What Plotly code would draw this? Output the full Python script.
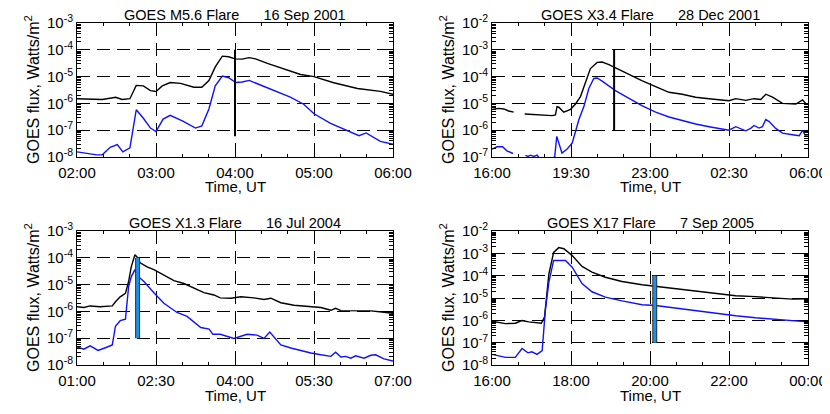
import plotly.graph_objects as go

# ---- 16 Sep 2001 (M5.6), time in hours UT
sep01_t = [2.00, 2.32, 2.49, 2.57, 2.67, 2.75, 2.84, 2.93, 3.00, 3.08, 3.18, 3.31, 3.48, 3.58, 3.67, 3.75,
           3.84, 3.92, 4.00, 4.09, 4.18, 4.26, 4.41, 4.62, 4.83, 5.00, 5.25, 5.55, 5.67, 5.84, 6.00]
sep01_long = [1.5e-6, 1.4e-6, 1.7e-6, 1.4e-6, 1.5e-6, 4.7e-6, 4.5e-6, 3.0e-6, 2.8e-6, 4.5e-6, 6.0e-6, 5.6e-6,
              4.0e-6, 4.0e-6, 7.1e-6, 2.3e-5, 5.8e-5, 5.5e-5, 4.6e-5, 4.5e-5, 5.1e-5, 4.6e-5, 3.1e-5, 1.9e-5,
              1.2e-5, 1.0e-5, 5.9e-6, 3.6e-6, 3.3e-6, 2.8e-6, 2.2e-6]
sep01_ts = [2.00, 2.25, 2.32, 2.42, 2.51, 2.58, 2.67, 2.75, 2.84, 2.93, 3.00, 3.09, 3.18, 3.34, 3.50, 3.58, 3.67,
            3.75, 3.84, 3.92, 4.01, 4.09, 4.18, 4.32, 4.53, 4.70, 4.87, 5.00, 5.21, 5.42, 5.57, 5.66, 5.84, 6.00]
sep01_short = [1.55e-8, 1.2e-8, 1.2e-8, 2.3e-8, 2.9e-8, 1.55e-8, 2.2e-8, 5.8e-7, 2.8e-7, 1.2e-7, 8.9e-8, 2.6e-7,
               3.6e-7, 2.2e-7, 1.2e-7, 1.45e-7, 6.2e-7, 4.5e-6, 1.05e-5, 9.1e-6, 6.0e-6, 6.3e-6, 7.2e-6, 4.9e-6,
               2.6e-6, 1.7e-6, 9.3e-7, 4.1e-7, 1.8e-7, 1.0e-7, 6.2e-8, 7.9e-8, 3.8e-8, 3.0e-8]
sep01_mark = [4.0, 1e-4, 6e-8]

# ---- 28 Dec 2001 (X3.4), hours from 16:00 on 28 Dec (24+ = next day)
dec01_t = [16.0, 16.3, 16.52, 16.74, 16.96, 17.2, 17.45, 17.92, 18.29, 18.66, 18.81, 18.88, 18.96, 19.18, 19.48,
           19.70, 19.92, 20.14, 20.36, 20.66, 20.88, 21.18, 21.47, 22.07, 22.66, 23.25, 23.84, 24.43, 25.02,
           25.62, 26.21, 26.50, 26.80, 27.24, 27.61, 27.91, 28.13, 28.43, 28.87, 29.46, 29.76, 29.90, 30.0]
dec01_long = [6.0e-6, 6.5e-6, 6.2e-6, 5.2e-6, 4.7e-6, None, 4.0e-6, 3.8e-6, 3.5e-6, 3.5e-6, 3.7e-6, 7.6e-6, 7.2e-6,
              4.7e-6, 6.0e-6, 9.5e-6, 1.8e-5, 6.5e-5, 2.0e-4, 3.4e-4, 3.5e-4, 2.8e-4, 2.1e-4, 1.2e-4, 6.9e-5,
              4.2e-5, 2.6e-5, 2.2e-5, 1.7e-5, 1.5e-5, 1.3e-5, 1.26e-5, 1.5e-5, 1.3e-5, 1.5e-5, 1.4e-5, 2.2e-5,
              1.7e-5, 1.0e-5, 9.5e-6, 1.35e-5, 1.0e-5, 9.5e-6]
dec01_ts = [16.0, 16.22, 16.47, 16.66, 16.93, 17.2, 17.48, 17.6, 17.7, 17.85, 18.0, 18.15, 18.66, 18.78, 18.87,
            19.1, 19.33, 19.55, 19.70, 19.85, 20.07, 20.29, 20.51, 20.66, 20.88, 21.18, 21.47, 22.07, 22.66,
            23.25, 23.84, 24.43, 25.02, 25.62, 26.21, 26.50, 26.80, 27.24, 27.46, 27.61, 27.83, 27.98, 28.13,
            28.28, 28.57, 28.87, 29.31, 29.61, 29.76, 29.88, 30.0]
dec01_short = [1.95e-7, 2.4e-7, 2.4e-7, 1.7e-7, 1.35e-7, None, 1.15e-7, 1.05e-7, 1.17e-7, 1.05e-7, 1.17e-7, 8e-8,
               8e-8, 1.05e-7, 5.9e-7, 1.4e-7, 2.0e-7, 3.3e-7, 8.9e-7, 2.5e-6, 7.6e-6, 3.6e-5, 8.5e-5, 8.9e-5,
               6.8e-5, 4.5e-5, 3.0e-5, 1.55e-5, 8.1e-6, 4.7e-6, 3.1e-6, 2.3e-6, 1.7e-6, 1.35e-6, 1.1e-6, 1.0e-6,
               1.35e-6, 9.5e-7, 1.17e-6, 1.5e-6, 1.2e-6, 1.35e-6, 2.5e-6, 2.1e-6, 1.17e-6, 7.8e-7, 6.8e-7,
               6.2e-7, 1.0e-6, 6.2e-7, 5.9e-7]
dec01_mark = [21.41, 1e-3, 1e-6]

# ---- 16 Jul 2004 (X1.3)
jul04_t = [1.0, 1.13, 1.25, 1.44, 1.67, 1.73, 1.82, 1.92, 1.98, 2.03, 2.10, 2.14, 2.20, 2.33, 2.46, 2.65, 2.84,
           3.03, 3.22, 3.41, 3.60, 3.72, 3.92, 4.11, 4.36, 4.55, 4.68, 4.87, 5.12, 5.37, 5.63, 5.82, 5.91, 6.01,
           6.20, 6.39, 6.58, 6.83, 7.0]
jul04_long = [1.5e-6, 1.4e-6, 1.6e-6, 1.5e-6, 1.6e-6, 2.3e-6, 3.5e-6, 4.7e-6, 1.3e-5, 4.6e-5, 1.3e-4, 1.07e-4,
              6.5e-5, 4.6e-5, 3.6e-5, 2.2e-5, 1.4e-5, 1.1e-5, 7.2e-6, 5.0e-6, 4.1e-6, 3.2e-6, 3.1e-6, 3.5e-6,
              3.2e-6, 2.8e-6, 3.1e-6, 2.1e-6, 1.7e-6, 1.55e-6, 1.4e-6, 1.1e-6, 1.3e-6, 1.07e-6, 1.05e-6, 1.05e-6,
              1.05e-6, 9.3e-7, 8.5e-7]
jul04_ts = [1.0, 1.13, 1.25, 1.40, 1.54, 1.67, 1.73, 1.82, 1.92, 1.98, 2.03, 2.10, 2.14, 2.27, 2.46, 2.65, 2.90,
            3.09, 3.35, 3.51, 3.58, 3.72, 3.98, 4.11, 4.23, 4.42, 4.55, 4.66, 4.77, 4.87, 5.06, 5.25, 5.44, 5.63,
            5.82, 5.91, 6.01, 6.10, 6.20, 6.29, 6.45, 6.58, 6.67, 6.83, 7.0]
jul04_short = [4.7e-8, 3.9e-8, 5.2e-8, 3.5e-8, 4.4e-8, 5.6e-8, 2.8e-7, 4.5e-7, 5.1e-7, 8.3e-6, 1.95e-5, 3.6e-5,
               2.2e-5, 1.3e-5, 5.0e-6, 2.0e-6, 9.1e-7, 6.5e-7, 2.5e-7, 2.2e-7, 1.4e-7, 1.4e-7, 9.8e-8, 1.15e-7,
               1.4e-7, 1.3e-7, 9.8e-8, 1.7e-7, 9.5e-8, 5.6e-8, 4.3e-8, 3.4e-8, 2.8e-8, 2.4e-8, 2.1e-8, 3.0e-8,
               2.0e-8, 2.1e-8, 1.8e-8, 2.2e-8, 1.8e-8, 2.3e-8, 2.4e-8, 1.7e-8, 1.4e-8]
jul04_mark = [2.15, 1e-4, 1e-7]

# ---- 7 Sep 2005 (X17)
sep05_t = [16.0, 16.34, 16.59, 16.76, 16.93, 17.10, 17.25, 17.33, 17.44, 17.56, 17.69, 17.82, 18.03, 18.28,
           18.53, 18.87, 19.29, 19.80, 20.14, 20.65, 21.15, 21.66, 22.17, 22.67, 23.18, 23.60, 24.0]
sep05_long = [9.1e-7, 7.1e-7, 7.4e-7, 9.8e-7, 8.5e-7, 8.1e-7, 7.4e-7, 1.4e-6, 1.2e-4, 1.1e-3, 1.8e-3, 1.6e-3,
              7.9e-4, 2.6e-4, 1.45e-4, 8.5e-5, 5.5e-5, 3.9e-5, 3.3e-5, 2.6e-5, 2.0e-5, 1.55e-5, 1.26e-5,
              1.15e-5, 1.0e-5, 8.9e-6, 9.3e-6]
sep05_ts = [16.0, 16.34, 16.59, 16.76, 16.91, 17.01, 17.14, 17.27, 17.35, 17.44, 17.56, 17.69, 17.86, 18.03,
            18.28, 18.53, 18.87, 19.29, 19.80, 20.14, 20.65, 21.15, 21.66, 22.17, 22.67, 23.18, 23.60, 24.0]
sep05_short = [3.0e-8, 2.2e-8, 2.2e-8, 5.5e-8, 3.5e-8, 3.9e-8, 3.0e-8, 4.4e-8, 2.8e-6, 5.1e-5, 4.8e-4, 4.8e-4,
               4.8e-4, 2.4e-4, 4.4e-5, 1.9e-5, 1.1e-5, 7.4e-6, 5.0e-6, 4.6e-6, 3.5e-6, 2.6e-6, 2.0e-6, 1.6e-6,
               1.3e-6, 1.1e-6, 9.8e-7, 8.5e-7]
sep05_mark = [20.12, 1e-4, 1e-7]

titles = ["GOES M5.6 Flare", "GOES X3.4 Flare", "GOES X1.3 Flare", "GOES X17 Flare"]
dates = ["16 Sep 2001", "28 Dec 2001", "16 Jul 2004", "7 Sep 2005"]
x_ticks = [[2, 3, 4, 5, 6], [16, 19.5, 23, 26.5, 30], [1, 2.5, 4, 5.5, 7], [16, 18, 20, 22, 24]]
x_labels = [["02:00", "03:00", "04:00", "05:00", "06:00"],
            ["16:00", "19:30", "23:00", "02:30", "06:00"],
            ["01:00", "02:30", "04:00", "05:30", "07:00"],
            ["16:00", "18:00", "20:00", "22:00", "00:00"]]
y_decades = [[-8, -3], [-7, -2], [-8, -3], [-8, -2]]

FONT = "Liberation Sans, Arial, sans-serif"
W, H = 830, 414
PAD = 8  # page body margin of the html page shifts the figure by this much
# plot boxes in window pixels: (left, right, top, bottom)
boxes = [(77, 393, 23, 157), (492, 808, 23, 157), (77, 393, 231, 365), (492, 808, 231, 365)]


def px(v):
    return (v - PAD) / W


def py(v):
    return 1 - (v - PAD) / H


series = [
    (sep01_t, sep01_long, sep01_ts, sep01_short, sep01_mark, "line"),
    (dec01_t, dec01_long, dec01_ts, dec01_short, dec01_mark, "line"),
    (jul04_t, jul04_long, jul04_ts, jul04_short, jul04_mark, "bar"),
    (sep05_t, sep05_long, sep05_ts, sep05_short, sep05_mark, "bar"),
]

fig = go.Figure()
annotations = []
for i, (tl, fl, ts, fs, mark, kind) in enumerate(series):
    n = i + 1
    xa = "x" if n == 1 else f"x{n}"
    ya = "y" if n == 1 else f"y{n}"
    fig.add_trace(go.Scatter(x=tl, y=fl, mode="lines", line=dict(color="black", width=1.4),
                             xaxis=xa, yaxis=ya, showlegend=False, connectgaps=False))
    fig.add_trace(go.Scatter(x=ts, y=fs, mode="lines", line=dict(color="#1010ff", width=1.4),
                             xaxis=xa, yaxis=ya, showlegend=False, connectgaps=False))
    if kind == "line":
        fig.add_trace(go.Scatter(x=[mark[0], mark[0]], y=[mark[1], mark[2]], mode="lines",
                                 line=dict(color="black", width=2), xaxis=xa, yaxis=ya, showlegend=False))
    else:
        fig.add_trace(go.Scatter(x=[mark[0], mark[0]], y=[mark[1], mark[2]], mode="lines",
                                 line=dict(color="#333333", width=5), xaxis=xa, yaxis=ya, showlegend=False))
        fig.add_trace(go.Scatter(x=[mark[0], mark[0]], y=[mark[1], mark[2]], mode="lines",
                                 line=dict(color="#1e8fe6", width=3), xaxis=xa, yaxis=ya, showlegend=False))

    l, r, t, b = boxes[i]
    x0, x1 = x_ticks[i][0], x_ticks[i][-1]
    major = x_ticks[i][1] - x_ticks[i][0]
    ylo, yhi = y_decades[i]
    grid = dict(showgrid=True, gridcolor="black", gridwidth=1, griddash="13px,7px",
                showline=True, linecolor="black", linewidth=1, mirror="ticks",
                ticks="inside", tickcolor="black", zeroline=False, automargin=False)
    fig.update_layout({
        ("xaxis" if n == 1 else f"xaxis{n}"): dict(
            grid, domain=[px(l), px(r)], anchor=ya, range=[x0, x1],
            tickmode="array", tickvals=x_ticks[i], ticktext=x_labels[i], ticklen=5,
            ticklabelstandoff=2,
            tickfont=dict(family=FONT, size=15, color="black"),
            minor=dict(tick0=x0, dtick=major / 3, ticks="inside", ticklen=3, tickcolor="black",
                       showgrid=False)),
        ("yaxis" if n == 1 else f"yaxis{n}"): dict(
            grid, domain=[py(b), py(t)], anchor=xa, type="log", range=[ylo, yhi],
            tickmode="array", tickvals=[10.0 ** k for k in range(ylo, yhi + 1)],
            ticktext=[f"10<sup>{k}</sup>" for k in range(ylo, yhi + 1)], ticklen=5,
            tickfont=dict(family=FONT, size=15, color="black"),
            minor=dict(dtick="D1", ticks="inside", ticklen=4, tickcolor="black", showgrid=False)),
    })
    cx = px((l + r) / 2)
    annotations.append(dict(text=titles[i] + "\u00a0" * 6 + dates[i], x=cx, y=py(t - 8),
                            xref="paper", yref="paper", showarrow=False, xanchor="center", yanchor="middle",
                            font=dict(family=FONT, size=14.5, color="black")))
    annotations.append(dict(text="Time, UT", x=cx, y=py(b + 30), xref="paper", yref="paper",
                            showarrow=False, xanchor="center", yanchor="middle",
                            font=dict(family=FONT, size=15, color="black")))
    annotations.append(dict(text="GOES flux, Watts/m<sup>2</sup>", x=px(l - 45), y=py((t + b) / 2),
                            xref="paper", yref="paper", showarrow=False, textangle=-90,
                            xanchor="center", yanchor="middle",
                            font=dict(family=FONT, size=16, color="black")))

fig.update_layout(width=W, height=H, margin=dict(l=0, r=0, t=0, b=0),
                  paper_bgcolor="white", plot_bgcolor="white", annotations=annotations,
                  showlegend=False)

fig.write_html("out.html")
